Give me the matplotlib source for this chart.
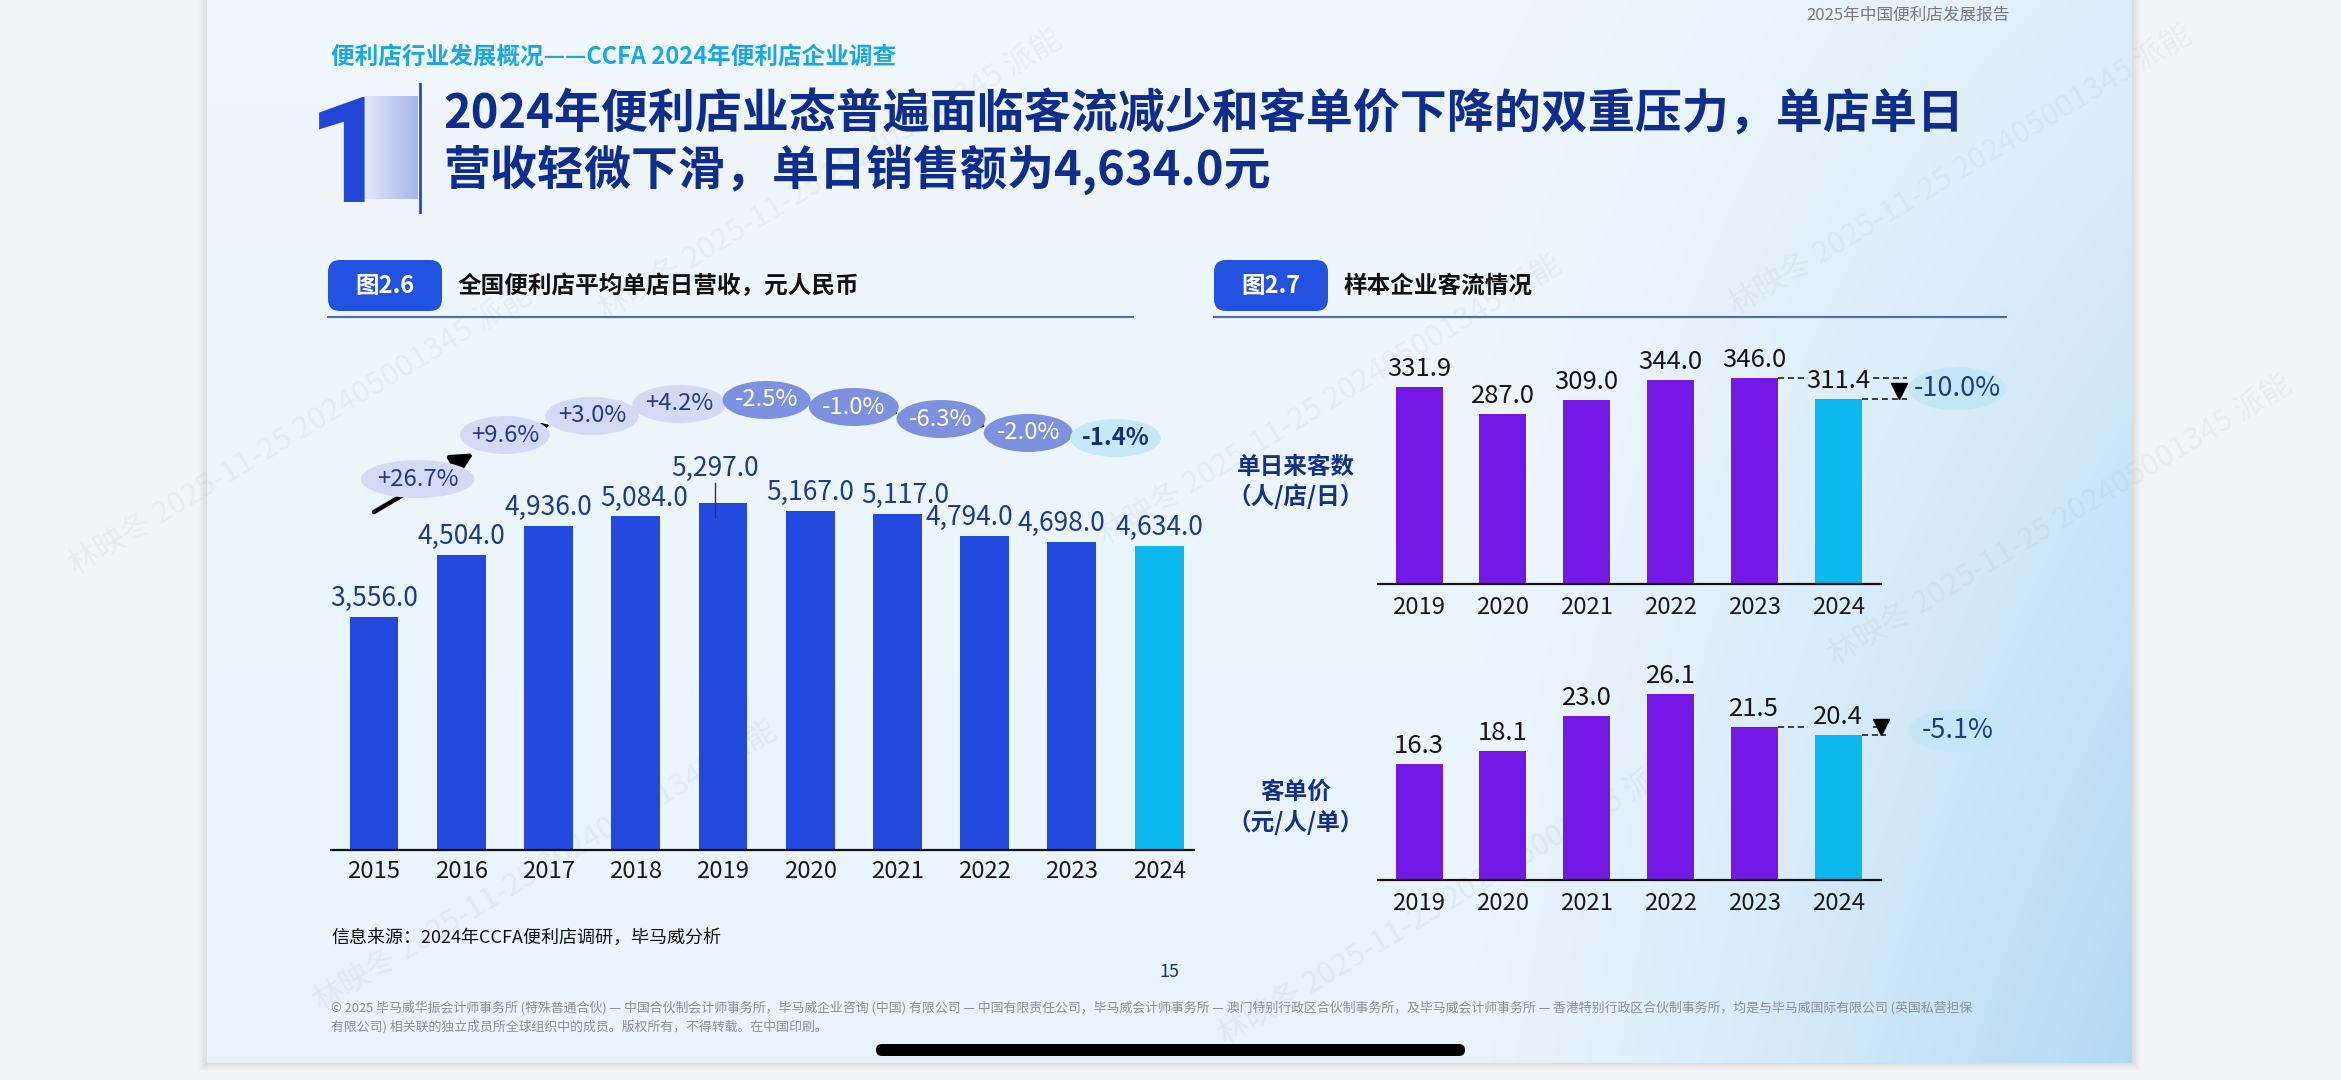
import numpy as np
import matplotlib
matplotlib.use('Agg')
import matplotlib.pyplot as plt
from matplotlib import font_manager
from matplotlib.patches import Ellipse, FancyBboxPatch, Rectangle, FancyArrowPatch

plt.rcParams['font.family'] = ['Noto Sans CJK SC', 'DejaVu Sans']

# ---------------- data ----------------
years_rev = ['2015', '2016', '2017', '2018', '2019', '2020', '2021', '2022', '2023', '2024']
revenue = [3556.0, 4504.0, 4936.0, 5084.0, 5297.0, 5167.0, 5117.0, 4794.0, 4698.0, 4634.0]
revenue_growth = ['+26.7%', '+9.6%', '+3.0%', '+4.2%', '-2.5%', '-1.0%', '-6.3%', '-2.0%', '-1.4%']

years_flow = ['2019', '2020', '2021', '2022', '2023', '2024']
daily_customers = [331.9, 287.0, 309.0, 344.0, 346.0, 311.4]
customers_change = '-10.0%'
ticket_price = [16.3, 18.1, 23.0, 26.1, 21.5, 20.4]
ticket_change = '-5.1%'

# ---------------- layout / style ----------------
W, H = 2341, 1080
NAVY = '#14318a'
BLUE_BAR = '#2449df'
CYAN_BAR = '#0cb9ef'
PURPLE_BAR = '#7518e6'

installed = {f.name for f in font_manager.fontManager.ttflist}
ONE_FONT = 'Liberation Sans Narrow' if 'Liberation Sans Narrow' in installed else (
    'Roboto' if 'Roboto' in installed else 'DejaVu Sans')

fig = plt.figure(figsize=(W / 100, H / 100), dpi=100)
fig.patch.set_facecolor('#f3f4f6')


def px_axes(l, r, b, t):
    return fig.add_axes([l / W, 1 - b / H, (r - l) / W, (b - t) / H])


bg = px_axes(0, W, H, 0)
bg.axis('off')

# slide shadow + gradient background
SL, SR, ST, SB = 207, 2132, 0, 1063
for k in range(1, 9):
    bg.add_patch(Rectangle((SL - k, ST), SR - SL + 2 * k, SB - ST + k,
                           fc='black', ec='none', alpha=0.010, zorder=0.5))
ny, nx = 200, 400
u = np.linspace(0, 1, nx)[None, :]
v = np.linspace(0, 1, ny)[:, None]
s = np.clip((u - 0.66) / 0.34, 0, 1) ** 1.3
t = np.clip(0.12 * v + 0.88 * s * (0.33 + 0.67 * v), 0, 1)
light = np.array([0.94, 0.97, 0.992])
blue = np.array([0.70, 0.85, 0.96])
img = light[None, None, :] * (1 - t[..., None]) + blue[None, None, :] * t[..., None]
bg.imshow(img, extent=(SL, SR, SB, ST), aspect='auto', interpolation='bilinear', zorder=1)

# watermarks (faint)
wm = '林映冬 2025-11-25 202405001345 派能'
for (wx, wy) in [(300, 430), (830, 175), (545, 866), (1330, 400), (1450, 900), (2060, 520), (1960, 170)]:
    bg.text(wx, wy, wm, rotation=31, rotation_mode='anchor', ha='center', va='center',
            fontsize=22, color='#8a96a8', alpha=0.09, zorder=1.5)

# top header
bg.text(2010, 15, '2025年中国便利店发展报告', ha='right', va='center', fontsize=12, color='#7a7a7a', zorder=3)
bg.text(331, 57, '便利店行业发展概况——CCFA 2024年便利店企业调查', ha='left', va='center',
        fontsize=17, fontweight='bold', color='#1aa7e4', zorder=3)

# big "1" with gradient block
grad = np.linspace(0, 1, 100)[None, :]
c0 = np.array([0.89, 0.91, 0.98]); c1 = np.array([0.66, 0.71, 0.92])
gimg = c0[None, None, :] * (1 - grad[..., None]) + c1[None, None, :] * grad[..., None]
gimg = np.repeat(gimg, 2, axis=0)
bg.imshow(gimg, extent=(364, 418, 199, 96), aspect='auto', zorder=2)
bg.text(349, 202, '1', ha='center', va='baseline', fontsize=106, fontweight='bold',
        family=[ONE_FONT, 'DejaVu Sans'], color='#2146d8', zorder=3)
bg.plot([420, 420], [84, 212], color='#2547d3', lw=2, zorder=3)

# main title
bg.text(443, 115, '2024年便利店业态普遍面临客流减少和客单价下降的双重压力，单店单日',
        ha='left', va='center', fontsize=33.8, fontweight='bold', color='#0e2d8c', zorder=3)
bg.text(443, 170, '营收轻微下滑，单日销售额为4,634.0元',
        ha='left', va='center', fontsize=33.8, fontweight='bold', color='#0e2d8c', zorder=3)

# section headers
for bx, lab, tx, title, ux in [(328, '图2.6', 458, '全国便利店平均单店日营收，元人民币', 1133),
                               (1214, '图2.7', 1344, '样本企业客流情况', 2006)]:
    bg.add_patch(FancyBboxPatch((bx, 260), 114, 51, boxstyle='round,pad=0,rounding_size=12',
                                fc='#2352e0', ec='none', zorder=3))
    bg.text(bx + 57, 286, lab, ha='center', va='center', color='white', fontsize=17,
            fontweight='bold', zorder=4)
    bg.text(tx, 286, title, ha='left', va='center', fontsize=17, fontweight='bold', color='#111111', zorder=4)
    bg.plot([bx, ux], [317, 317], color='#4a67c9', lw=1.5, zorder=3)

# side labels of right charts
for (yy, txt) in [(467, '单日来客数'), (496, '（人/店/日）'), (792, '客单价'), (822, '（元/人/单）')]:
    bg.text(1296, yy, txt, ha='center', va='center', fontsize=17, fontweight='bold', color=NAVY, zorder=3)

# footer
bg.text(331, 938, '信息来源：2024年CCFA便利店调研，毕马威分析', ha='left', va='center',
        fontsize=13, color='#111111', zorder=3)
bg.text(1169, 972, '15', ha='center', va='center', fontsize=13, color=NAVY, zorder=3)
bg.text(331, 1008, '© 2025 毕马威华振会计师事务所 (特殊普通合伙) — 中国合伙制会计师事务所，毕马威企业咨询 (中国) 有限公司 — 中国有限责任公司，'
        '毕马威会计师事务所 — 澳门特别行政区合伙制事务所，及毕马威会计师事务所 — 香港特别行政区合伙制事务所，均是与毕马威国际有限公司 (英国私营担保',
        ha='left', va='center', fontsize=9.3, color='#8b9099', zorder=3)
bg.text(331, 1027, '有限公司) 相关联的独立成员所全球组织中的成员。版权所有，不得转载。在中国印刷。',
        ha='left', va='center', fontsize=9.3, color='#8b9099', zorder=3)

# home indicator pill
bg.add_patch(FancyBboxPatch((876, 1044), 589, 12, boxstyle='round,pad=0,rounding_size=6',
                            fc='black', ec='none', zorder=5))

bg.set_xlim(0, W)
bg.set_ylim(H, 0)


def style_axes(ax, labels, pad):
    ax.patch.set_alpha(0)
    for sp in ['top', 'right', 'left']:
        ax.spines[sp].set_visible(False)
    ax.spines['bottom'].set_linewidth(1.6)
    ax.spines['bottom'].set_color('#111111')
    ax.set_yticks([])
    ax.set_xticks(np.arange(len(labels)), labels)
    ax.tick_params(axis='x', length=0, pad=pad, labelsize=17.2, labelcolor='#1a1a1a')


# ---------------- left chart ----------------
PPU_L = 0.0656  # pixels per data unit
axL = px_axes(331, 1194, 850, 340)
xL = np.arange(len(revenue))
axL.bar(xL, revenue, width=0.56, color=[BLUE_BAR] * (len(revenue) - 1) + [CYAN_BAR], zorder=2)
axL.set_xlim(-0.493, 9.40)
axL.set_ylim(0, 510 / PPU_L)
style_axes(axL, years_rev, 7.5)

label_dx = [0, 0, 0, 8, -8, 0, 8, -15, -10, 0]
label_dy = [11, 11, 11, 11, 27, 11, 11, 11, 11, 11]
for i, val in enumerate(revenue):
    axL.annotate(f'{val:,.1f}', (i, val), xytext=(label_dx[i], label_dy[i]), textcoords='offset pixels',
                 ha='center', va='baseline', fontsize=19, color='#1c3a8e', zorder=3)
# leader line under the 2019 label
i_peak = 4
axL.plot([i_peak - 8 / 87.2] * 2, [revenue[i_peak] - 14 / PPU_L, revenue[i_peak] + 20 / PPU_L],
         color='#333333', lw=1, zorder=3)

# growth bubbles
bubble_y = [5655, 6326, 6616, 6799, 6860, 6753, 6570, 6357, 6280]
bubble_w = [1.30, 1.03, 1.07, 1.07, 1.01, 1.03, 1.02, 1.02, 1.04]
bubble_h = 38 / PPU_L
bx_list = xL[:-1] + 0.5
arrow_start = (0.0, 5152)
axL.add_patch(FancyArrowPatch(arrow_start, (bx_list[1], bubble_y[1]),
                              arrowstyle='-|>,head_length=1.1,head_width=0.55',
                              mutation_scale=12, lw=3.2, color='black', shrinkA=0, shrinkB=26, zorder=3))
for i in range(1, len(bx_list) - 1):
    axL.add_patch(FancyArrowPatch((bx_list[i], bubble_y[i]), (bx_list[i + 1], bubble_y[i + 1]),
                                  arrowstyle='-|>', mutation_scale=10, lw=1.8, color='black',
                                  shrinkA=0, shrinkB=31, zorder=3))
for i, g in enumerate(revenue_growth):
    last = i == len(revenue_growth) - 1
    if last:
        fc, tc, fw = '#c5e9f8', '#16307f', 'bold'
    elif g.startswith('+'):
        fc, tc, fw = '#d4daf4', '#23398c', 'normal'
    else:
        fc, tc, fw = '#7d91df', 'white', 'normal'
    axL.add_patch(Ellipse((bx_list[i], bubble_y[i]), bubble_w[i], bubble_h, fc=fc, ec='none', zorder=4))
    axL.text(bx_list[i], bubble_y[i], g, ha='center', va='center', fontsize=17.2, color=tc,
             fontweight=fw, zorder=5)


# ---------------- right charts ----------------
def flow_chart(bottom, top, values, change, ppu, pad, tri_x, end_x):
    ax = px_axes(1378, 1881, bottom, top)
    x = np.arange(len(values))
    ax.bar(x, values, width=0.56, color=[PURPLE_BAR] * (len(values) - 1) + [CYAN_BAR], zorder=2)
    ax.set_xlim(-0.49, 5.51)
    ax.set_ylim(0, (bottom - top) / ppu)
    style_axes(ax, years_flow, pad)
    for i, val in enumerate(values):
        ax.annotate(f'{val:.1f}', (i, val), xytext=(0, 11), textcoords='offset pixels',
                    ha='center', va='baseline', fontsize=18.5, color='#151515', zorder=3)
    n = len(values)
    prev, cur = values[-2], values[-1]
    dash = dict(color='#111111', lw=1.1, ls=(0, (4, 2.5)), clip_on=False, zorder=3)
    ax.plot([n - 2 + 0.28, n - 1 - 0.36], [prev, prev], **dash)
    ax.plot([n - 1 + 0.42, end_x], [prev, prev], **dash)
    ax.plot([n - 1 + 0.28, end_x], [cur, cur], **dash)
    ax.plot([tri_x], [cur + 8 / ppu], marker='v', ms=11.5, color='black', clip_on=False, zorder=4)
    ym = (prev + cur) / 2
    e = ax.add_patch(Ellipse((6.42, ym), 1.16, 43 / ppu, fc='#c4e7f8', ec='none', zorder=3))
    e.set_clip_on(False)
    ax.text(6.42, ym, change, ha='center', va='center', fontsize=19.5, color='#1c3a8e', zorder=4)
    return ax


axT = flow_chart(584, 330, daily_customers, customers_change, 0.594, 9, 5.73, 5.82)
axB = flow_chart(880, 640, ticket_price, ticket_change, 7.13, 8.5, 5.51, 5.57)

fig.savefig('out.png', dpi=100, facecolor=fig.get_facecolor())
